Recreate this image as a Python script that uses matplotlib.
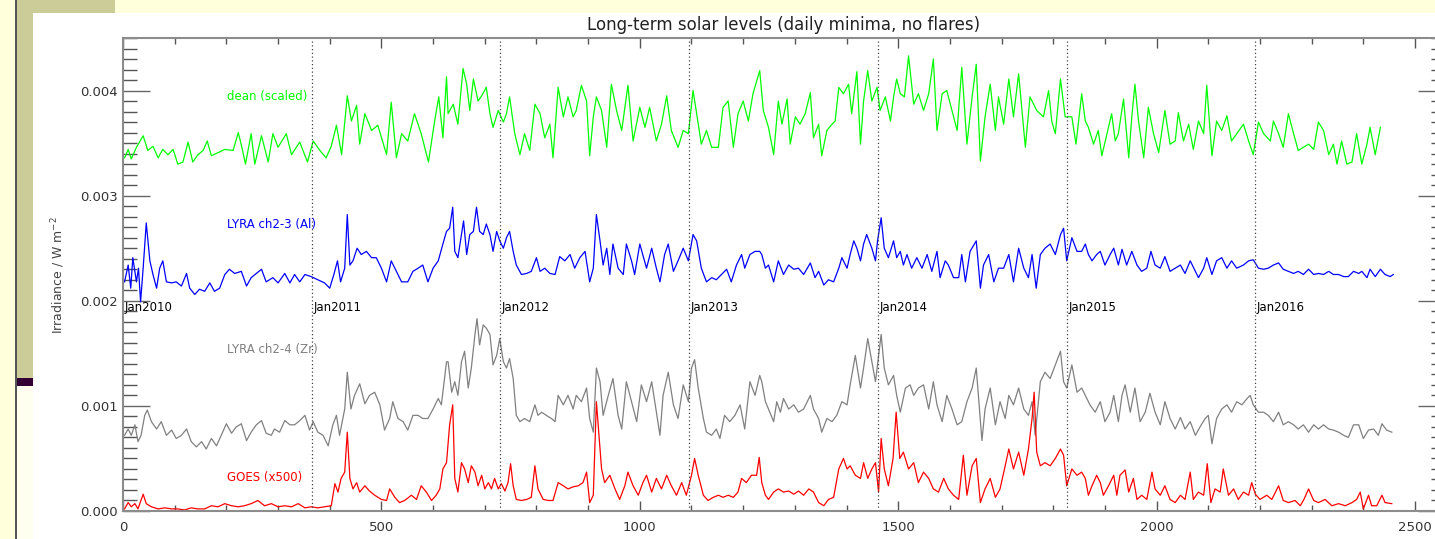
import numpy as np
import matplotlib.pyplot as plt
from matplotlib.patches import Rectangle
from matplotlib.ticker import MultipleLocator, FormatStrFormatter

W, H = 1435, 539

# x: days since 1 Jan 2010, y: irradiance in 1e-3 W m^-2
dean_days = [3, 10, 16, 26, 39, 48, 58, 68, 77, 87, 97, 106, 116, 126, 135, 145, 155, 163, 171, 184,
             197, 213, 223, 230, 237, 248, 255, 268, 281, 290, 300, 316, 326, 342, 357, 368, 381, 393, 403, 413,
             423, 434, 442, 452, 458, 468, 481, 493, 510, 519, 529, 539, 551, 564, 577, 591, 603, 611, 619, 626,
             629, 639, 648, 658, 665, 671, 678, 687, 694, 703, 710, 716, 726, 736, 742, 748, 758, 768, 777, 787,
             797, 807, 816, 826, 832, 842, 852, 861, 871, 877, 887, 897, 903, 910, 916, 926, 936, 945, 955, 965,
             977, 987, 1000, 1010, 1019, 1032, 1042, 1052, 1061, 1074, 1084, 1094, 1103, 1110, 1119, 1129, 1139, 1152, 1161, 1171,
             1181, 1190, 1200, 1210, 1219, 1232,
             1239, 1249, 1259, 1268, 1275, 1285, 1291, 1301, 1310, 1320, 1330, 1336, 1346, 1352, 1362, 1372, 1378, 1385, 1394, 1404,
             1410, 1420, 1427, 1433, 1441, 1449, 1459, 1465, 1475, 1485, 1491, 1497, 1504, 1512, 1520, 1530, 1539, 1549, 1559, 1568,
             1575, 1585, 1594, 1604, 1614, 1623, 1633, 1643, 1651, 1659, 1668, 1678, 1688, 1694, 1704, 1714, 1723, 1733, 1746, 1755,
             1768, 1781, 1791, 1797, 1804, 1814, 1823, 1836, 1844,
             1855, 1862, 1868, 1878, 1887, 1894, 1904, 1913, 1920, 1926, 1936, 1946, 1952, 1958, 1965, 1975, 1984, 1994, 2004, 2016,
             2026, 2036, 2042, 2052, 2062, 2071, 2081, 2091, 2097, 2107, 2116, 2126, 2136, 2145, 2155, 2168, 2178, 2187, 2197, 2207,
             2220, 2226, 2236, 2245, 2255, 2265, 2274, 2284, 2294, 2304, 2313, 2323, 2333, 2342, 2349, 2358, 2368, 2378, 2387, 2397,
             2407, 2413, 2423, 2433]
dean_vals = [3.36, 3.44, 3.35, 3.46, 3.57, 3.43, 3.47, 3.36, 3.44, 3.39, 3.44, 3.30, 3.32, 3.51, 3.32, 3.39, 3.43, 3.52, 3.38, 3.41,
             3.44, 3.43, 3.60, 3.46, 3.30, 3.59, 3.30, 3.57, 3.32, 3.59, 3.46, 3.59, 3.39, 3.51, 3.32, 3.52, 3.43, 3.36, 3.47, 3.67,
             3.39, 3.95, 3.71, 3.86, 3.49, 3.78, 3.62, 3.67, 3.39, 3.89, 3.36, 3.59, 3.52, 3.78, 3.59, 3.32, 3.71, 3.94, 3.55, 4.13,
             3.78, 3.87, 3.68, 4.21, 4.06, 3.81, 4.11, 3.90, 3.95, 4.03, 3.78, 3.65, 3.81, 3.70, 3.78, 3.94, 3.59, 3.39, 3.59, 3.43,
             3.87, 3.78, 3.55, 3.68, 3.36, 4.03, 3.75, 3.94, 3.75, 3.81, 4.05, 3.90, 3.38, 3.75, 3.94, 3.81, 3.46, 4.06, 3.81, 3.62,
             4.05, 3.52, 3.84, 3.65, 3.84, 3.52, 3.68, 3.95, 3.62, 3.46, 3.62, 3.59, 4.00, 3.78, 3.49, 3.62, 3.46, 3.46, 3.84, 3.90,
             3.46, 3.78, 3.90, 3.71, 3.97, 4.19,
             3.81, 3.65, 3.39, 3.90, 3.68, 3.92, 3.49, 3.75, 3.68, 3.78, 3.98, 3.55, 3.68, 3.38, 3.62, 3.68, 3.71, 4.03, 3.97, 4.06,
             3.78, 4.18, 3.49, 3.90, 4.19, 3.90, 4.03, 3.81, 3.94, 3.71, 3.94, 4.11, 3.97, 3.94, 4.33, 3.87, 3.97, 3.81, 3.97, 4.30,
             3.62, 3.97, 4.00, 3.81, 3.62, 4.22, 3.49, 3.94, 4.25, 3.33, 3.75, 4.06, 3.62, 3.94, 3.68, 4.11, 3.75, 4.16, 3.46, 3.94,
             3.81, 3.75, 4.00, 3.71, 3.59, 4.11, 3.75, 3.75, 3.49,
             3.97, 3.71, 3.65, 3.49, 3.62, 3.38, 3.59, 3.78, 3.52, 3.59, 3.92, 3.36, 3.75, 4.06, 3.71, 3.36, 3.84, 3.59, 3.41, 3.81,
             3.49, 3.52, 3.79, 3.52, 3.68, 3.44, 3.71, 3.59, 4.05, 3.38, 3.71, 3.62, 3.76, 3.52, 3.59, 3.68, 3.52, 3.39, 3.70, 3.59,
             3.52, 3.71, 3.59, 3.46, 3.78, 3.59, 3.43, 3.46, 3.49, 3.44, 3.70, 3.62, 3.39, 3.49, 3.30, 3.52, 3.30, 3.32, 3.59, 3.30,
             3.49, 3.65, 3.39, 3.65]

al_days = [3, 10, 15, 19, 26, 30, 34, 39, 45, 52, 58, 65, 71, 77, 84, 94, 103, 113, 123, 129,
           139, 148, 158, 168, 177, 187, 197, 206, 216, 229, 239, 248, 258, 268, 277, 290, 300, 313, 323, 332,
           342, 352, 364, 377, 390, 400, 408, 415, 421, 429, 434, 439, 445, 453, 461, 471, 481, 490, 500, 510,
           519, 529, 539, 551, 561, 571, 580, 590, 600, 610, 619, 626,
           632, 638, 642, 648, 655, 659, 665, 671, 678, 684, 690, 697, 703, 710, 716, 723, 729, 736, 742, 748,
           755, 761, 771, 781, 790, 800, 807, 816, 826, 836, 845, 855, 865, 874, 884, 894, 903, 910, 916, 923,
           929, 936, 942, 948, 958, 968, 974, 984, 990, 1000, 1013, 1023, 1032, 1039, 1048, 1055, 1065, 1074, 1084, 1094,
           1103, 1110, 1119, 1129, 1139, 1148, 1158, 1168, 1177, 1187, 1197, 1203, 1213, 1223, 1232,
           1236, 1243, 1249, 1259, 1268, 1278, 1288, 1298, 1307, 1317, 1330, 1339, 1346, 1356, 1365, 1375, 1385, 1391, 1401, 1407,
           1414, 1420, 1427, 1433, 1439, 1449, 1456, 1460, 1467, 1473, 1481, 1491, 1497, 1504, 1510, 1517, 1526, 1536, 1546, 1556,
           1565, 1575, 1581, 1591, 1597, 1607, 1617, 1623, 1630, 1639, 1651, 1659, 1665, 1675, 1685, 1694, 1704, 1714, 1723, 1733,
           1743, 1752, 1759, 1767, 1775, 1784, 1794, 1804, 1814, 1820, 1826, 1836, 1846,
           1855, 1862, 1868, 1875, 1884, 1891, 1900, 1910, 1917, 1926, 1933, 1942, 1952, 1962, 1971, 1981, 1989, 1997, 2007, 2016,
           2026, 2036, 2046, 2055, 2065, 2075, 2081, 2091, 2097, 2107, 2116, 2126, 2136, 2145, 2155, 2168, 2178, 2187, 2197, 2207,
           2216, 2226, 2236, 2245, 2255, 2265, 2274, 2284, 2294, 2304, 2313, 2323, 2333, 2342, 2352, 2362, 2371, 2381, 2391, 2397,
           2407, 2413, 2423, 2433, 2442, 2452, 2458]
al_vals = [2.18, 2.34, 2.12, 2.41, 2.18, 2.31, 1.99, 2.31, 2.74, 2.38, 2.25, 2.12, 2.31, 2.38, 2.18, 2.17, 2.18, 2.14, 2.26, 2.12,
           2.06, 2.11, 2.09, 2.17, 2.09, 2.12, 2.25, 2.30, 2.26, 2.28, 2.14, 2.22, 2.26, 2.30, 2.18, 2.22, 2.17, 2.26, 2.17, 2.25,
           2.18, 2.25, 2.23, 2.20, 2.17, 2.12, 2.25, 2.38, 2.18, 2.31, 2.82, 2.34, 2.38, 2.50, 2.44, 2.47, 2.41, 2.41, 2.31, 2.18,
           2.38, 2.28, 2.18, 2.18, 2.28, 2.31, 2.34, 2.18, 2.31, 2.38, 2.54, 2.66,
           2.69, 2.89, 2.47, 2.41, 2.63, 2.76, 2.44, 2.63, 2.66, 2.89, 2.66, 2.63, 2.73, 2.63, 2.47, 2.66, 2.57, 2.50, 2.60, 2.66,
           2.47, 2.34, 2.25, 2.26, 2.28, 2.41, 2.28, 2.31, 2.26, 2.25, 2.42, 2.38, 2.44, 2.31, 2.41, 2.47, 2.18, 2.31, 2.82, 2.57,
           2.34, 2.50, 2.25, 2.54, 2.31, 2.25, 2.54, 2.38, 2.25, 2.54, 2.31, 2.50, 2.31, 2.18, 2.44, 2.54, 2.28, 2.38, 2.50, 2.38,
           2.63, 2.57, 2.31, 2.18, 2.22, 2.20, 2.25, 2.30, 2.18, 2.34, 2.44, 2.31, 2.44, 2.47, 2.47,
           2.44, 2.31, 2.34, 2.18, 2.38, 2.25, 2.34, 2.30, 2.31, 2.25, 2.36, 2.22, 2.28, 2.15, 2.20, 2.18, 2.31, 2.41, 2.31, 2.44,
           2.57, 2.50, 2.38, 2.54, 2.63, 2.50, 2.38, 2.57, 2.79, 2.50, 2.41, 2.57, 2.41, 2.47, 2.34, 2.44, 2.31, 2.41, 2.31, 2.44,
           2.28, 2.47, 2.22, 2.38, 2.34, 2.22, 2.22, 2.44, 2.18, 2.47, 2.57, 2.12, 2.34, 2.44, 2.18, 2.31, 2.31, 2.44, 2.18, 2.50,
           2.31, 2.22, 2.44, 2.12, 2.44, 2.50, 2.54, 2.44, 2.63, 2.69, 2.38, 2.60, 2.47,
           2.47, 2.54, 2.44, 2.38, 2.44, 2.47, 2.34, 2.44, 2.50, 2.34, 2.49, 2.34, 2.47, 2.34, 2.28, 2.31, 2.47, 2.34, 2.31, 2.42,
           2.28, 2.31, 2.34, 2.26, 2.38, 2.28, 2.22, 2.31, 2.41, 2.25, 2.38, 2.41, 2.31, 2.38, 2.31, 2.34, 2.38, 2.39, 2.31, 2.30,
           2.31, 2.34, 2.36, 2.30, 2.28, 2.26, 2.28, 2.25, 2.30, 2.25, 2.26, 2.25, 2.28, 2.25, 2.25, 2.23, 2.23, 2.28, 2.26, 2.28,
           2.22, 2.30, 2.23, 2.30, 2.25, 2.23, 2.25]

zr_days = [3, 10, 16, 23, 29, 35, 42, 47, 55, 65, 74, 84, 94, 103, 113, 123, 132, 142, 152, 161,
           171, 181, 190, 200, 210, 219, 229, 239, 248, 258, 268, 277, 287, 293, 303, 313, 323, 332, 342, 352,
           361, 368, 377, 387, 397, 406, 413, 419, 429, 434, 441, 448, 458, 468, 477, 487, 497, 506, 516, 522,
           532, 542, 551, 561, 571, 580, 590, 600, 610, 616, 626,
           629, 636, 642, 648, 655, 661, 668, 674, 681, 685, 690, 697, 703, 710, 716, 723, 729, 736, 742, 748,
           755, 761, 768, 777, 787, 797, 803, 810, 819, 829, 836, 842, 852, 861, 871, 877, 887, 897, 903, 910,
           916, 923, 929, 939, 948, 958, 965, 974, 984, 994, 1003, 1013, 1023, 1032, 1039, 1045, 1055, 1065, 1074, 1084,
           1094, 1100, 1106, 1113, 1123, 1129, 1139, 1148, 1155, 1164, 1174, 1184, 1194, 1203, 1213, 1223, 1232,
           1236, 1243, 1249, 1259, 1265, 1272, 1278, 1288, 1298, 1307, 1317, 1330, 1336, 1346, 1352, 1362, 1372, 1381, 1391, 1401,
           1407, 1417, 1427, 1433, 1441, 1449, 1456, 1462, 1467, 1473, 1481, 1491, 1497, 1504, 1514, 1523, 1530, 1539, 1549, 1559,
           1568, 1575, 1585, 1594, 1604, 1614, 1623, 1633, 1643, 1651, 1662, 1668, 1678, 1688, 1697, 1707, 1714, 1723, 1733, 1743,
           1752, 1759, 1765, 1775, 1784, 1794, 1804, 1814, 1820, 1826, 1836, 1846,
           1855, 1862, 1871, 1881, 1891, 1900, 1910, 1917, 1926, 1933, 1939, 1949, 1958, 1968, 1978, 1987, 1997, 2007, 2016, 2026,
           2036, 2046, 2055, 2065, 2075, 2084, 2094, 2100, 2107, 2116, 2126, 2136, 2145, 2155, 2165, 2175, 2181, 2187, 2197, 2207,
           2216, 2226, 2236, 2245, 2255, 2265, 2274, 2284, 2294, 2304, 2313, 2323, 2333, 2342, 2352, 2362, 2371, 2381, 2391, 2400,
           2410, 2420, 2429, 2436, 2445, 2455]
zr_vals = [0.72, 0.78, 0.72, 0.82, 0.66, 0.72, 0.91, 0.96, 0.85, 0.78, 0.85, 0.72, 0.77, 0.69, 0.72, 0.78, 0.66, 0.61, 0.66, 0.59,
           0.69, 0.62, 0.72, 0.83, 0.74, 0.80, 0.83, 0.67, 0.75, 0.82, 0.86, 0.74, 0.72, 0.78, 0.75, 0.86, 0.82, 0.82, 0.86, 0.91,
           0.77, 0.85, 0.75, 0.72, 0.62, 0.82, 0.91, 0.72, 0.97, 1.32, 0.97, 1.10, 1.21, 1.02, 1.10, 1.13, 1.01, 0.77, 0.88, 1.04,
           0.88, 0.85, 0.77, 0.91, 0.91, 0.88, 0.88, 0.97, 1.07, 1.01, 1.42,
           1.42, 1.13, 1.23, 1.10, 1.42, 1.52, 1.17, 1.36, 1.68, 1.83, 1.58, 1.77, 1.74, 1.68, 1.39, 1.48, 1.64, 1.42, 1.36, 1.45,
           1.26, 0.91, 0.85, 0.88, 0.85, 1.01, 0.91, 0.94, 0.91, 0.88, 0.85, 1.10, 1.01, 1.10, 0.97, 1.10, 1.04, 1.17, 0.88, 0.75,
           1.36, 1.23, 0.91, 1.10, 1.26, 0.91, 0.78, 1.23, 1.04, 0.85, 1.20, 1.04, 1.23, 0.94, 0.72, 1.10, 1.32, 1.01, 0.88, 1.20,
           1.04, 1.36, 1.44, 1.17, 0.88, 0.75, 0.72, 0.78, 0.69, 0.91, 0.85, 0.91, 1.01, 0.78, 1.23, 1.10, 1.29,
           1.23, 1.04, 0.97, 0.85, 1.04, 0.94, 1.07, 0.97, 1.01, 0.94, 0.97, 1.10, 0.97, 0.88, 0.75, 0.88, 0.85, 0.91, 1.04, 1.01,
           1.20, 1.48, 1.17, 1.36, 1.64, 1.42, 1.23, 1.48, 1.68, 1.36, 1.20, 1.29, 1.10, 0.94, 1.17, 1.20, 1.10, 1.17, 1.20, 0.97,
           1.23, 1.01, 0.85, 1.10, 0.97, 0.82, 0.85, 1.04, 1.17, 1.36, 0.67, 0.97, 1.17, 0.82, 1.04, 0.88, 1.10, 1.01, 1.17, 0.97,
           0.91, 1.04, 0.72, 1.23, 1.32, 1.26, 1.39, 1.52, 1.23, 1.17, 1.39, 1.13,
           1.17, 1.10, 1.01, 0.94, 1.04, 0.85, 0.94, 1.10, 0.85, 1.10, 1.20, 0.94, 1.17, 0.85, 0.94, 1.12, 0.94, 0.82, 1.04, 0.88,
           0.78, 0.89, 0.78, 0.85, 0.72, 0.80, 0.88, 0.91, 0.64, 0.88, 0.97, 1.01, 0.94, 1.04, 1.01, 1.07, 1.10, 1.01, 0.94, 0.94,
           0.91, 0.85, 0.94, 0.82, 0.85, 0.82, 0.78, 0.82, 0.75, 0.82, 0.78, 0.82, 0.78, 0.77, 0.75, 0.72, 0.70, 0.82, 0.82, 0.69,
           0.77, 0.78, 0.72, 0.83, 0.77, 0.75]

goes_days = [3, 10, 16, 23, 29, 39, 45, 55, 68, 81, 94, 106, 119, 132, 145, 158, 171, 184, 197, 210,
             223, 235, 248, 261, 274, 287, 300, 313, 326, 339, 352, 364, 377, 390, 403, 410, 416, 422, 429, 434,
             439, 445, 452, 458, 468, 477, 487, 500, 510, 516, 526, 535, 545, 558, 568, 577, 587, 597, 606, 613,
             619, 626,
             632, 638, 642, 648, 655, 661, 668, 674, 681, 687, 694, 700, 707, 713, 719, 726, 732, 739, 745, 750,
             755, 761, 771, 781, 790, 797, 803, 813, 823, 832, 842, 852, 861, 871, 881, 890, 897, 903, 910, 916,
             921, 926, 932, 942, 952, 961, 971, 977, 987, 997, 1006, 1013, 1023, 1032, 1042, 1052, 1061, 1071, 1081, 1090,
             1100, 1106, 1113, 1123, 1132, 1142, 1152, 1161, 1171, 1181, 1190, 1197, 1206, 1216, 1226, 1231,
             1236, 1243, 1249, 1259, 1268, 1278, 1288, 1298, 1307, 1317, 1327, 1336, 1346, 1356, 1365, 1375, 1385, 1394, 1401, 1407,
             1417, 1427, 1433, 1441, 1449, 1456, 1462, 1467, 1473, 1481, 1490, 1496, 1503, 1510, 1520, 1530, 1539, 1549, 1559, 1568,
             1578, 1588, 1597, 1607, 1617, 1626, 1633, 1643, 1651, 1659, 1668, 1678, 1688, 1697, 1707, 1714, 1723, 1733, 1743, 1752,
             1759, 1763, 1768, 1775, 1784, 1794, 1804, 1814, 1820, 1826, 1836, 1846,
             1855, 1862, 1868, 1875, 1884, 1891, 1897, 1907, 1917, 1923, 1929, 1939, 1946, 1955, 1962, 1971, 1981, 1991, 1997, 2007,
             2016, 2026, 2036, 2046, 2055, 2065, 2071, 2081, 2091, 2098, 2105, 2113, 2123, 2129, 2139, 2149, 2158, 2168, 2178, 2184,
             2191, 2200, 2213, 2223, 2236, 2245, 2255, 2268, 2278, 2285, 2294, 2304, 2313, 2326, 2339, 2352, 2365, 2378, 2387, 2394,
             2400, 2410, 2416, 2426, 2436, 2442, 2455]
goes_vals = [0.02, 0.08, 0.04, 0.07, 0.02, 0.16, 0.07, 0.04, 0.02, 0.03, 0.02, 0.02, 0.01, 0.03, 0.02, 0.02, 0.05, 0.04, 0.07, 0.05,
             0.04, 0.05, 0.07, 0.10, 0.05, 0.07, 0.04, 0.05, 0.04, 0.07, 0.03, 0.04, 0.03, 0.04, 0.05, 0.26, 0.18, 0.31, 0.37, 0.75,
             0.31, 0.21, 0.27, 0.18, 0.24, 0.19, 0.15, 0.11, 0.10, 0.21, 0.13, 0.08, 0.10, 0.15, 0.11, 0.24, 0.18, 0.10, 0.15, 0.21,
             0.40, 0.46,
             0.82, 1.01, 0.31, 0.18, 0.46, 0.40, 0.27, 0.43, 0.37, 0.24, 0.34, 0.21, 0.27, 0.21, 0.31, 0.21, 0.26, 0.19, 0.27, 0.45,
             0.24, 0.11, 0.10, 0.11, 0.13, 0.43, 0.21, 0.11, 0.10, 0.10, 0.27, 0.24, 0.21, 0.23, 0.24, 0.27, 0.37, 0.08, 0.15, 1.04,
             0.72, 0.40, 0.27, 0.34, 0.21, 0.11, 0.24, 0.37, 0.24, 0.15, 0.27, 0.34, 0.18, 0.31, 0.21, 0.34, 0.24, 0.15, 0.27, 0.15,
             0.34, 0.50, 0.34, 0.15, 0.10, 0.13, 0.15, 0.13, 0.15, 0.13, 0.18, 0.31, 0.27, 0.34, 0.34, 0.51,
             0.27, 0.15, 0.11, 0.18, 0.21, 0.18, 0.19, 0.16, 0.19, 0.15, 0.21, 0.18, 0.08, 0.05, 0.11, 0.13, 0.40, 0.50, 0.40, 0.43,
             0.34, 0.31, 0.46, 0.31, 0.40, 0.46, 0.18, 0.69, 0.40, 0.24, 0.50, 0.94, 0.50, 0.56, 0.40, 0.46, 0.27, 0.37, 0.31, 0.21,
             0.18, 0.31, 0.21, 0.15, 0.11, 0.53, 0.15, 0.43, 0.50, 0.08, 0.21, 0.31, 0.13, 0.21, 0.43, 0.59, 0.40, 0.56, 0.34, 0.59,
             0.88, 1.13, 0.56, 0.43, 0.46, 0.43, 0.50, 0.59, 0.53, 0.24, 0.40, 0.34,
             0.37, 0.31, 0.15, 0.24, 0.34, 0.27, 0.15, 0.24, 0.34, 0.15, 0.34, 0.39, 0.18, 0.31, 0.11, 0.15, 0.11, 0.37, 0.21, 0.15,
             0.24, 0.11, 0.08, 0.15, 0.11, 0.37, 0.11, 0.18, 0.15, 0.45, 0.08, 0.21, 0.18, 0.40, 0.15, 0.21, 0.11, 0.18, 0.15, 0.27,
             0.16, 0.11, 0.15, 0.11, 0.24, 0.10, 0.08, 0.10, 0.05, 0.11, 0.21, 0.10, 0.08, 0.11, 0.05, 0.07, 0.05, 0.08, 0.11, 0.18,
             0.02, 0.15, 0.05, 0.05, 0.15, 0.08, 0.07]

jan_days = [0, 365, 730, 1096, 1461, 1826, 2191]
jan_labels = ['Jan2010', 'Jan2011', 'Jan2012', 'Jan2013', 'Jan2014', 'Jan2015', 'Jan2016']

series = [
    (dean_days, dean_vals, '#00ff00', 'dean (scaled)', 3.94),
    (al_days, al_vals, '#0000ff', 'LYRA ch2-3 (Al)', 2.73),
    (zr_days, zr_vals, '#808080', 'LYRA ch2-4 (Zr)', 1.54),
    (goes_days, goes_vals, '#ff0000', 'GOES (x500)', 0.32),
]

fig = plt.figure(figsize=(W / 100, H / 100), dpi=100)
fig.patch.set_facecolor('#ffffdc')


def block(x0, y0, x1, y1, color):
    # slide decoration, given in picture pixels from the top-left corner
    fig.add_artist(Rectangle((x0 / W, 1 - y1 / H), (x1 - x0) / W, (y1 - y0) / H,
                             transform=fig.transFigure, facecolor=color,
                             edgecolor='none', zorder=-5))


block(33, 13, W, H, '#ffffff')
block(17, 0, 115, 13, '#cccc99')
block(17, 13, 33, 378, '#cccc99')
block(17, 378, 33, 386, '#330033')
block(17, 386, 33, H, '#fffff0')
block(15, 0, 17, H, '#555555')

# right spine sits just past the picture edge, as in the reference
ax = fig.add_axes([123 / W, 1 - 511 / H, (1445 - 123) / W, (511 - 38) / H])
ax.set_facecolor('white')

for days, vals, color, label, ytxt in series:
    ax.plot(days, np.array(vals) * 1e-3, color=color, lw=0.9)
    ax.text(201, ytxt * 1e-3, label, color=color, fontsize=8.5, va='center', ha='left')

for d, lab in zip(jan_days, jan_labels):
    if d > 0:
        ax.axvline(d, color='#444444', lw=0.9, ls=(0, (1, 2)))
    ax.text(d + 3, 1.94e-3, lab, fontsize=8.5, va='center', ha='left', color='black')

ax.set_xlim(0, 2558)
ax.set_ylim(0, 0.0045)
ax.set_xticks(np.arange(0, 2501, 500))
ax.xaxis.set_minor_locator(MultipleLocator(100))
ax.set_yticks(np.arange(0, 0.00401, 0.001))
ax.yaxis.set_minor_locator(MultipleLocator(0.0001))
ax.yaxis.set_major_formatter(FormatStrFormatter('%.3f'))

ax.tick_params(axis='y', which='major', direction='in', length=19.5, width=1,
               left=True, right=True, color='#666666', labelsize=9.5,
               labelcolor='#333333', pad=3.5)
ax.tick_params(axis='y', which='minor', direction='in', length=10, width=1,
               left=True, right=True, color='#555555')
ax.tick_params(axis='x', which='major', direction='in', length=7.5, width=1,
               bottom=True, top=True, color='#555555', labelsize=9.5,
               labelcolor='#333333', pad=7)
ax.tick_params(axis='x', which='minor', direction='in', length=4, width=1,
               bottom=True, top=True, color='#555555')

for sp in ax.spines.values():
    sp.set_color('#8c8c8c')
    sp.set_linewidth(1.5)

ax.set_title('Long-term solar levels (daily minima, no flares)', fontsize=12,
             color='#222222', pad=6)
fig.text(58 / W, 1 - 275 / H, 'Irradiance / W m$^{-2}$', rotation=90,
         ha='center', va='center', fontsize=9, color='#444444')

fig.savefig('out.png', dpi=100, facecolor=fig.get_facecolor())
